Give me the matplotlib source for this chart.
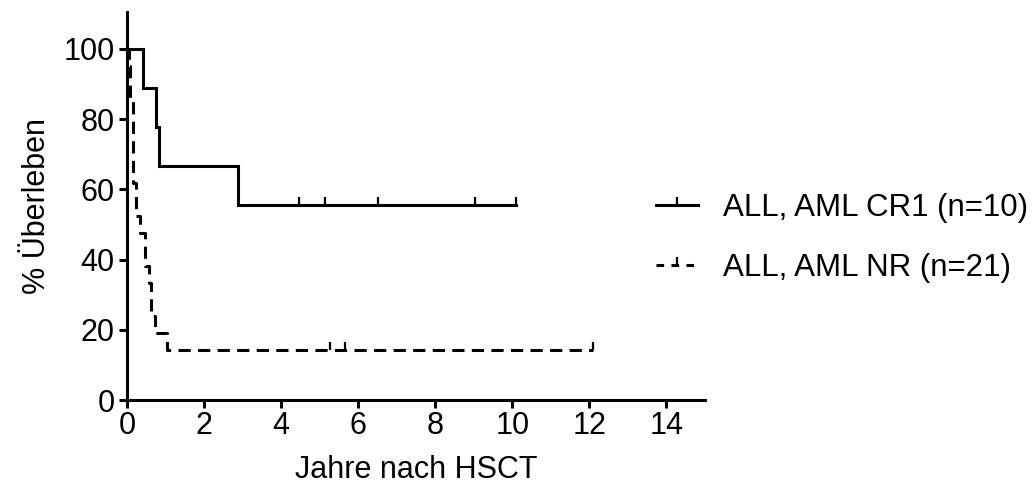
import matplotlib
matplotlib.use("Agg")
import matplotlib.pyplot as plt
from matplotlib.lines import Line2D
from matplotlib.path import Path

plt.rcParams['font.family'] = ['Liberation Sans', 'DejaVu Sans']

# ---- data ----
cr1_label = "ALL, AML CR1 (n=10)"
cr1_times = [0, 0.42, 0.76, 0.82, 2.88, 10.1]
cr1_surv = [100, 88.9, 77.8, 66.7, 55.6, 55.6]
cr1_cens_t = [4.47, 5.14, 6.52, 9.04, 10.1]
cr1_cens_s = [55.6, 55.6, 55.6, 55.6, 55.6]

nr_label = "ALL, AML NR (n=21)"
nr_times = [0, 0.05, 0.07, 0.09, 0.16, 0.24, 0.33, 0.46, 0.57, 0.63, 0.72, 1.04, 12.1]
nr_surv = [100, 95.2, 90.5, 85.7, 61.9, 52.4, 47.6, 38.1, 33.3, 23.8, 19.0, 14.3, 14.3]
nr_cens_t = [5.27, 5.66, 12.1]
nr_cens_s = [14.3, 14.3, 14.3]

x_ticks = [0, 2, 4, 6, 8, 10, 12, 14]
y_ticks = [0, 20, 40, 60, 80, 100]
x_label = "Jahre nach HSCT"
y_label = "% Überleben"

# ---- figure ----
W, H = 1033, 496
fig = plt.figure(figsize=(W / 100, H / 100), dpi=100)
left, right, bottom, top = 127, 705, 400, 12
ax = fig.add_axes([left / W, 1 - bottom / H, (right - left) / W, (bottom - top) / H])

lw = 2.2
tick_marker = Path([(0, 0), (0, 1)], [Path.MOVETO, Path.LINETO])

ax.step(cr1_times, cr1_surv, where='post', color='black', lw=lw, solid_joinstyle='miter')
ax.plot(cr1_cens_t, cr1_cens_s, ls='none', marker=tick_marker, ms=12, mew=1.6, color='black')

ax.step(nr_times, nr_surv, where='post', color='black', lw=lw, dashes=(4, 2.4))
ax.plot(nr_cens_t, nr_cens_s, ls='none', marker=tick_marker, ms=12, mew=1.6, color='black')

ax.set_xlim(0, 15)
ax.set_ylim(0, 110.5)
ax.set_xticks(x_ticks)
ax.set_yticks(y_ticks)
for s in ['top', 'right']:
    ax.spines[s].set_visible(False)
for s in ['left', 'bottom']:
    ax.spines[s].set_linewidth(lw)
ax.tick_params(axis='both', direction='out', length=6, width=lw, labelsize=22, pad=3)
ax.tick_params(axis='x', pad=2)
ax.set_xlabel(x_label, fontsize=22, labelpad=10)
ax.set_ylabel(y_label, fontsize=22, labelpad=8)

handles = [
    Line2D([], [], color='black', lw=lw, marker=tick_marker, ms=12, mew=1.6),
    Line2D([], [], color='black', lw=lw, dashes=(2.5, 2.4), marker=tick_marker, ms=12, mew=1.6),
]
fig.legend(handles, [cr1_label, nr_label], loc='center left',
           bbox_to_anchor=(656 / W, 1 - 238 / H), frameon=False, fontsize=22.5,
           handlelength=1.35, handletextpad=0.8, labelspacing=0.95, numpoints=1,
           borderpad=0, borderaxespad=0)

fig.savefig("out.png", dpi=100)
